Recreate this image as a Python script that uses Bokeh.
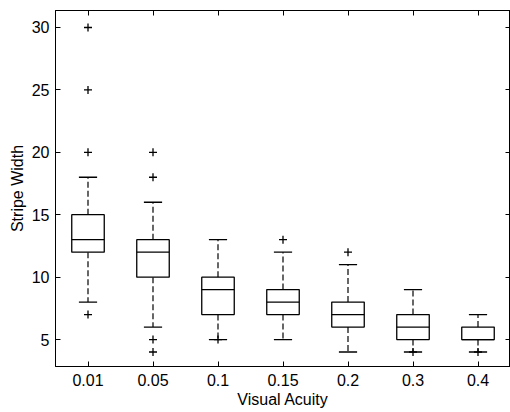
from bokeh.plotting import figure
from bokeh.models import (ColumnDataSource, FixedTicker, LinearAxis, CategoricalAxis,
                          Range1d, FactorRange, CustomJSTickFormatter)
from bokeh.transform import dodge
from bokeh.embed import file_html
from bokeh.resources import INLINE

categories = ["0.01", "0.05", "0.1", "0.15", "0.2", "0.3", "0.4"]
q1 = [12, 10, 7, 7, 6, 5, 5]
medians = [13, 12, 9, 8, 7, 6, 5]
q3 = [15, 13, 10, 9, 8, 7, 6]
lower_whisker = [8, 6, 5, 5, 4, 4, 4]
upper_whisker = [18, 16, 13, 12, 11, 9, 7]
outlier_cat = ["0.01", "0.01", "0.01", "0.01", "0.05", "0.05", "0.05", "0.05",
               "0.1", "0.15", "0.2", "0.3", "0.4"]
outlier_val = [7, 20, 25, 30, 4, 5, 18, 20, 5, 13, 12, 4, 4]
y_ticks = [5, 10, 15, 20, 25, 30]

FONT = "Liberation Sans"
FS = "16px"

p = figure(width=510, height=412, x_range=FactorRange(*categories),
           y_range=Range1d(2.84, 31.36), output_backend="svg",
           toolbar_location=None, min_border_left=55, min_border_right=0,
           min_border_top=10, min_border_bottom=46)
p.background_fill_color = "white"
p.border_fill_color = "white"
p.outline_line_color = "black"
p.outline_line_width = 1
p.grid.visible = False

src = ColumnDataSource(dict(cat=categories, q1=q1, med=medians, q3=q3,
                            lw=lower_whisker, uw=upper_whisker))

# whiskers (dashed)
p.segment(x0="cat", y0="q3", x1="cat", y1="uw", source=src,
          line_color="black", line_width=1.2, line_dash="6 3")
p.segment(x0="cat", y0="q1", x1="cat", y1="lw", source=src,
          line_color="black", line_width=1.2, line_dash="6 3")
# caps
p.segment(x0=dodge("cat", -0.14, range=p.x_range), y0="uw",
          x1=dodge("cat", 0.14, range=p.x_range), y1="uw", source=src,
          line_color="black", line_width=1.3)
p.segment(x0=dodge("cat", -0.14, range=p.x_range), y0="lw",
          x1=dodge("cat", 0.14, range=p.x_range), y1="lw", source=src,
          line_color="black", line_width=1.3)
# boxes
p.vbar(x="cat", width=0.5, bottom="q1", top="q3", source=src,
       fill_color="white", line_color="black", line_width=1.3)
# medians
p.segment(x0=dodge("cat", -0.25, range=p.x_range), y0="med",
          x1=dodge("cat", 0.25, range=p.x_range), y1="med", source=src,
          line_color="black", line_width=1.3)
# outliers
p.scatter(x=outlier_cat, y=outlier_val, marker="cross", size=8,
          line_color="black", line_width=1.3)

def style_axis(ax):
    ax.major_tick_in = 5
    ax.major_tick_out = 0
    ax.minor_tick_in = 0
    ax.minor_tick_out = 0
    ax.axis_line_color = "black"
    ax.major_tick_line_color = "black"
    ax.major_label_text_font = FONT
    ax.major_label_text_font_size = FS
    ax.major_label_text_color = "black"
    ax.axis_label_text_font = FONT
    ax.axis_label_text_font_size = FS
    ax.axis_label_text_font_style = "normal"
    ax.axis_label_text_color = "black"

p.yaxis.ticker = FixedTicker(ticks=y_ticks)
p.yaxis.axis_label = "Stripe Width"
p.xaxis.axis_label = "Visual Acuity"
style_axis(p.xaxis[0])
style_axis(p.yaxis[0])
p.xaxis.major_label_standoff = 7
p.xaxis.axis_label_standoff = 2
p.yaxis.major_label_standoff = 6
p.yaxis.axis_label_standoff = 3

blank = CustomJSTickFormatter(code="return '';")
top_ax = CategoricalAxis(formatter=blank)
style_axis(top_ax)
top_ax.major_label_standoff = 0
top_ax.axis_label_standoff = 0
p.add_layout(top_ax, "above")
right_ax = LinearAxis(ticker=FixedTicker(ticks=y_ticks), formatter=blank)
style_axis(right_ax)
right_ax.major_label_standoff = 0
right_ax.axis_label_standoff = 0
p.add_layout(right_ax, "right")

open("out.html", "w").write(file_html(p, INLINE))
